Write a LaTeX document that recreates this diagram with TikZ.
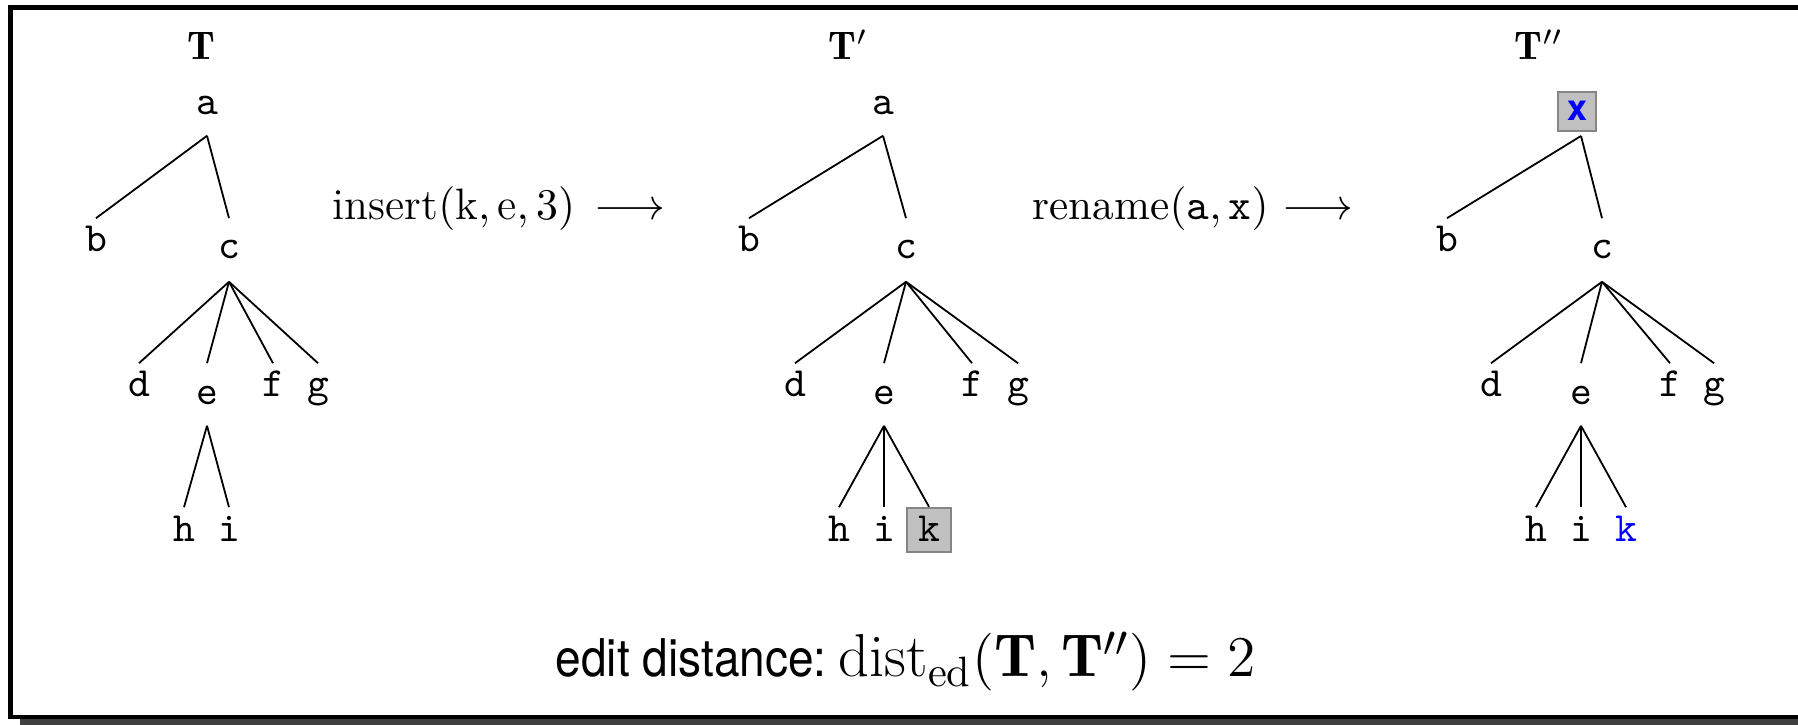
\documentclass[tikz,border=0pt]{standalone}
\usepackage{fontspec}
\setsansfont{TeX Gyre Heros}
\definecolor{boxfill}{HTML}{C0C0C0}
\definecolor{boxborder}{HTML}{858585}
\definecolor{shadowgray}{HTML}{404040}
\definecolor{pureblue}{RGB}{0,0,255}
\begin{document}
\begin{tikzpicture}[x=0.25pt,y=-0.25pt,
  tl/.style={font=\fontsize{10.4}{12}\ttfamily, inner sep=0pt, anchor=base},
  tn/.style 2 args={tl, text height=#1, text depth=#2},
  edge/.style={line width=0.45pt},
  graybox/.style={draw=boxborder, fill=boxfill, line width=0.6pt},
  lbl/.style={anchor=base west, inner sep=0pt}]
\useasboundingbox (0,0) rectangle (1798,725);
% frame with shadow
\fill[shadowgray] (20,719) rectangle (1798,725);
\draw[line width=1.125pt] (10.5,7.5) rectangle (1799.9,717);

% ---------- tree T ----------
\node[lbl, font=\fontsize{10}{12}\selectfont] (LT) at (187,60) {$\mathbf{T}$};
\node[tn={4pt}{5pt}] (Ta) at (207,115) {a};
\node[tn={8.25pt}{0pt}] (Tb) at (96,252) {b};
\node[tn={10pt}{5.5pt}] (Tc) at (229,259) {c};
\node[tn={8.25pt}{0pt}] (Td) at (139,397) {d};
\node[tn={10.25pt}{5pt}] (Te) at (207,405) {e};
\node[tn={8.25pt}{0pt}] (Tf) at (273,397) {f};
\node[tn={8.25pt}{0pt}] (Tg) at (318,397) {g};
\node[tn={8.5pt}{0pt}] (Th) at (184,542) {h};
\node[tn={8.5pt}{0pt}] (Ti) at (229,542) {i};
\draw[edge] (Ta.south) -- (Tb.north);
\draw[edge] (Ta.south) -- (Tc.north);
\draw[edge] (Tc.south) -- (Td.north);
\draw[edge] (Tc.south) -- (Te.north);
\draw[edge] (Tc.south) -- (Tf.north);
\draw[edge] (Tc.south) -- (Tg.north);
\draw[edge] (Te.south) -- (Th.north);
\draw[edge] (Te.south) -- (Ti.north);

% ---------- operation 1 ----------
\node[lbl, font=\fontsize{11}{13}\selectfont] (op1) at (332,220)
  {$\mathrm{insert}(\mathrm{k}, \mathrm{e}, 3)$\hspace{0.45em}$\longrightarrow$};

% ---------- tree T' ----------
\node[lbl, font=\fontsize{10}{12}\selectfont] (LP) at (828,60) {$\mathbf{T}'$};
\node[tn={4pt}{5pt}] (Pa) at (883,115) {a};
\node[tn={8.25pt}{0pt}] (Pb) at (749,252) {b};
\node[tn={10pt}{5.5pt}] (Pc) at (906,259) {c};
\node[tn={8.25pt}{0pt}] (Pd) at (795,397) {d};
\node[tn={10.25pt}{5pt}] (Pe) at (884,405) {e};
\node[tn={8.25pt}{0pt}] (Pf) at (972,397) {f};
\node[tn={8.25pt}{0pt}] (Pg) at (1018,397) {g};
\node[tn={8.5pt}{0pt}] (Ph) at (839,542) {h};
\node[tn={8.5pt}{0pt}] (Pi) at (884,542) {i};
\node[tn={8.5pt}{2.5pt}, graybox, minimum width=11pt] (Pk) at (929,542) {k};
\draw[edge] (Pa.south) -- (Pb.north);
\draw[edge] (Pa.south) -- (Pc.north);
\draw[edge] (Pc.south) -- (Pd.north);
\draw[edge] (Pc.south) -- (Pe.north);
\draw[edge] (Pc.south) -- (Pf.north);
\draw[edge] (Pc.south) -- (Pg.north);
\draw[edge] (Pe.south) -- (Ph.north);
\draw[edge] (Pe.south) -- (Pi.north);
\draw[edge] (Pe.south) -- (Pk.north);

% ---------- operation 2 ----------
\node[lbl, font=\fontsize{10.8}{13}\selectfont] (op2) at (1032,220)
  {$\mathrm{rename}(\texttt{a}, \texttt{x})$ $\longrightarrow$};

% ---------- tree T'' ----------
\node[lbl, font=\fontsize{10}{12}\selectfont] (LPP) at (1514,60) {$\mathbf{T}''$};
\node[graybox, anchor=base, inner sep=0pt, text height=7.25pt, text depth=2.5pt,
  minimum width=9.5pt, font=\fontsize{9}{11}\sffamily\bfseries, text=pureblue] (Rx) at (1577,121) {x};
\coordinate (Rroot) at (1581,136);
\node[tn={8.25pt}{0pt}] (Rb) at (1447,252) {b};
\node[tn={10pt}{5.5pt}] (Rc) at (1602,259) {c};
\node[tn={8.25pt}{0pt}] (Rd) at (1491,397) {d};
\node[tn={10.25pt}{5pt}] (Re) at (1581,405) {e};
\node[tn={8.25pt}{0pt}] (Rf) at (1670,397) {f};
\node[tn={8.25pt}{0pt}] (Rg) at (1714,397) {g};
\node[tn={8.5pt}{0pt}] (Rh) at (1536,542) {h};
\node[tn={8.5pt}{0pt}] (Ri) at (1581,542) {i};
\node[tn={8.5pt}{0pt}, text=pureblue] (Rk) at (1626,542) {k};
\draw[edge] (Rroot) -- (Rb.north);
\draw[edge] (Rroot) -- (Rc.north);
\draw[edge] (Rc.south) -- (Rd.north);
\draw[edge] (Rc.south) -- (Re.north);
\draw[edge] (Rc.south) -- (Rf.north);
\draw[edge] (Rc.south) -- (Rg.north);
\draw[edge] (Re.south) -- (Rh.north);
\draw[edge] (Re.south) -- (Ri.north);
\draw[edge] (Re.south) -- (Rk.north);

% ---------- bottom formula ----------
\node[lbl, font=\fontsize{15.15}{18}\selectfont] (ed) at (555,677)
  {\scalebox{0.885}[1]{\fontsize{13}{16}\sffamily edit distance:}\hspace{3pt}$\mathrm{dist}_{\mathrm{ed}}(\mathbf{T}, \mathbf{T}'') = 2$};
\end{tikzpicture}
\end{document}
